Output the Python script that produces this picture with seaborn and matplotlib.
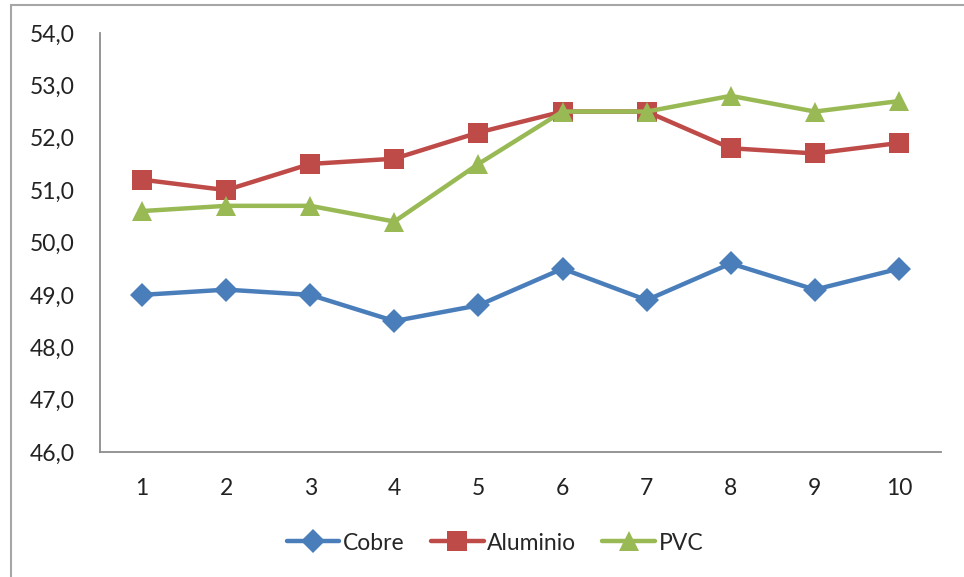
import matplotlib
matplotlib.use("Agg")
import matplotlib.pyplot as plt
import matplotlib.patches as mpatches
import seaborn as sns
import pandas as pd

# Measurement index and readings per material
muestras = [1, 2, 3, 4, 5, 6, 7, 8, 9, 10]
cobre = [49.0, 49.1, 49.0, 48.5, 48.8, 49.5, 48.9, 49.6, 49.1, 49.5]
aluminio = [51.2, 51.0, 51.5, 51.6, 52.1, 52.5, 52.5, 51.8, 51.7, 51.9]
pvc = [50.6, 50.7, 50.7, 50.4, 51.5, 52.5, 52.5, 52.8, 52.5, 52.7]
y_ticks = [46, 47, 48, 49, 50, 51, 52, 53, 54]

series = {"Cobre": cobre, "Aluminio": aluminio, "PVC": pvc}
df = pd.DataFrame(
    [(m, name, v) for name, vals in series.items() for m, v in zip(muestras, vals)],
    columns=["muestra", "material", "valor"],
)

sns.set_theme(style="white")
plt.rcParams["font.family"] = ["Lato", "DejaVu Sans"]

palette = {"Cobre": "#4A7EBB", "Aluminio": "#BE4B48", "PVC": "#98B954"}
markers = {"Cobre": "D", "Aluminio": "s", "PVC": "^"}
sizes = {"Cobre": 12, "Aluminio": 14, "PVC": 15}

fig = plt.figure(figsize=(9.64, 5.77), dpi=100)
ax = fig.add_axes([100 / 964, 1 - 452 / 577, 841 / 964, 419 / 577])

for name in series:
    sub = df[df["material"] == name]
    sns.lineplot(
        data=sub, x="muestra", y="valor", ax=ax, color=palette[name],
        marker=markers[name], markersize=sizes[name], linewidth=3.2,
        markeredgewidth=0, label=name, legend=False,
    )

ax.set_xlim(0.5, 10.5)
ax.set_ylim(46, 54)
ax.set_xticks(muestras)
ax.set_xticklabels([str(m) for m in muestras])
ax.set_yticks(y_ticks)
ax.set_yticklabels([f"{t:.1f}".replace(".", ",") for t in y_ticks])
ax.set_xlabel("")
ax.set_ylabel("")
ax.tick_params(axis="both", length=0, labelsize=16.5, colors="#222222")
ax.tick_params(axis="y", pad=18)
ax.tick_params(axis="x", pad=19)

for side in ["top", "right"]:
    ax.spines[side].set_visible(False)
for side in ["left", "bottom"]:
    ax.spines[side].set_color("#8c8c8c")
    ax.spines[side].set_linewidth(1.3)

handles, labels = ax.get_legend_handles_labels()
fig.legend(
    handles, labels, loc="center", bbox_to_anchor=(495 / 964, 1 - 543 / 577),
    ncol=3, frameon=False, fontsize=16.5, handlelength=2.3,
    columnspacing=1.15, handletextpad=0.15,
)

# Chart frame
fig.patches.append(mpatches.Rectangle(
    (11 / 964, -0.05), 1.1, 1 - 5 / 577 + 0.05, transform=fig.transFigure,
    fill=False, edgecolor="#a6a6a6", linewidth=1.5, zorder=0,
))

fig.savefig("out.png", dpi=100)
